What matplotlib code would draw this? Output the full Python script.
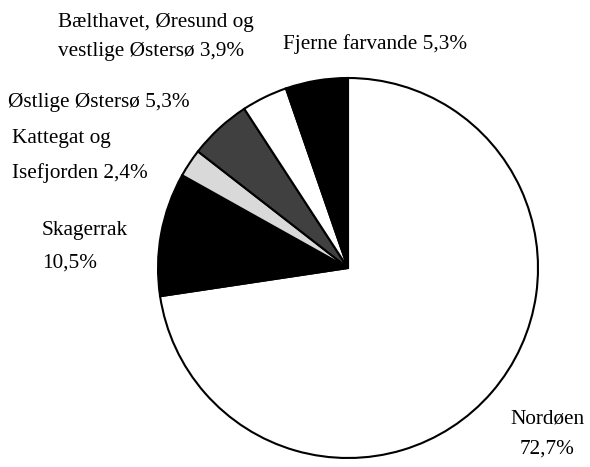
import os
import matplotlib
matplotlib.use('Agg')
import matplotlib.pyplot as plt
from matplotlib import font_manager

# shares of catch by area (percent)
areas = ['Nordøen', 'Skagerrak', 'Kattegat og Isefjorden', 'Østlige Østersø',
         'Bælthavet, Øresund og vestlige Østersø', 'Fjerne farvande']
shares = [72.7, 10.5, 2.4, 5.3, 3.9, 5.3]
colors = ['white', 'black', '#d9d9d9', '#404040', 'white', 'black']

serif_path = '/usr/share/fonts/truetype/liberation/LiberationSerif-Regular.ttf'
if os.path.exists(serif_path):
    fp = font_manager.FontProperties(fname=serif_path, size=15.3)
else:
    fp = font_manager.FontProperties(family='serif', size=15.3)

fig = plt.figure(figsize=(5.9, 4.67), dpi=100)
ax = fig.add_axes([0, 0, 1, 1])

ax.pie(shares, colors=colors, startangle=90, counterclock=False,
       center=(348, 199), radius=190,
       wedgeprops=dict(edgecolor='black', linewidth=1.5))

# pie() resets limits, so set the pixel frame afterwards
ax.set_xlim(0, 590)
ax.set_ylim(0, 467)
ax.set_aspect('equal')
ax.axis('off')

def lab(x, y, s, ha='left', ls=1.7):
    ax.text(x, 467 - y, s, fontproperties=fp, ha=ha, va='center', linespacing=ls)

lab(58, 37, 'Bælthavet, Øresund og\nvestlige Østersø 3,9%', ls=1.65)
lab(283, 44, 'Fjerne farvande 5,3%')
lab(8, 103, 'Østlige Østersø 5,3%')
lab(12, 156, 'Kattegat og\nIsefjorden 2,4%', ls=2.0)
lab(42, 247, 'Skagerrak\n10,5%', ls=2.0)
lab(547, 434, 'Nordøen\n72,7%', ha='center', ls=1.75)

fig.savefig('out.png', dpi=100)
